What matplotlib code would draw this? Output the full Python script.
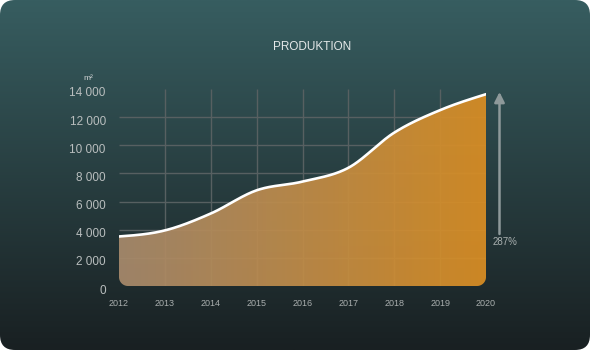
import numpy as np
import matplotlib.pyplot as plt
import matplotlib.transforms as mtransforms
from matplotlib.patches import FancyBboxPatch, Polygon

plt.rcParams['font.family'] = ['Liberation Sans', 'DejaVu Sans']

years = [2012, 2013, 2014, 2015, 2016, 2017, 2018, 2019, 2020]
area_m2 = [3520, 3950, 5150, 6800, 7420, 8400, 10900, 12500, 13630]
y_ticks = [0, 2000, 4000, 6000, 8000, 10000, 12000, 14000]
growth_label = "287%"
title = "PRODUKTION"
unit = "m²"

W, H = 590, 350


def monotone_curve(x, y, n=40):
    # monotone cubic (d3 curveMonotoneX style) sampled densely for drawing
    x = np.asarray(x, float)
    y = np.asarray(y, float)
    h = np.diff(x)
    s = np.diff(y) / h
    t = np.zeros_like(y)
    for i in range(1, len(x) - 1):
        p = (s[i - 1] * h[i] + s[i] * h[i - 1]) / (h[i - 1] + h[i])
        t[i] = (np.sign(s[i - 1]) + np.sign(s[i])) * min(abs(s[i - 1]), abs(s[i]), 0.5 * abs(p))
    t[0] = (3 * s[0] - t[1]) / 2
    t[-1] = (3 * s[-1] - t[-2]) / 2
    xs, ys = [], []
    for i in range(len(x) - 1):
        u = np.linspace(0, 1, n, endpoint=(i == len(x) - 2))
        h00 = 2 * u**3 - 3 * u**2 + 1
        h10 = u**3 - 2 * u**2 + u
        h01 = -2 * u**3 + 3 * u**2
        h11 = u**3 - u**2
        xs.append(x[i] + u * h[i])
        ys.append(h00 * y[i] + h10 * h[i] * t[i] + h01 * y[i + 1] + h11 * h[i] * t[i + 1])
    return np.concatenate(xs), np.concatenate(ys)


fig = plt.figure(figsize=(W / 100, H / 100), dpi=100)
fig.patch.set_facecolor("white")

# card background with vertical gradient
bg = fig.add_axes([0, 0, 1, 1])
bg.set_xlim(0, W)
bg.set_ylim(0, H)
bg.axis("off")
top = np.array([55, 93, 96]) / 255
bottom = np.array([25, 32, 34]) / 255
g = np.linspace(0, 1, 256)[:, None]
grad = bottom + (top - bottom) * g
grad = np.repeat(grad[:, None, :], 2, axis=1)
img = bg.imshow(grad, extent=[0, W, 0, H], origin="lower", aspect="auto", zorder=0)
card = FancyBboxPatch((0, 0), W, H, boxstyle="round,pad=0,rounding_size=15",
                      transform=bg.transData, facecolor="none", edgecolor="none")
bg.add_patch(card)
img.set_clip_path(card)

# plot area
x0, x1 = 119, 486
y0, y1 = 286, 89
ax = fig.add_axes([x0 / W, (H - y0) / H, (x1 - x0) / W, (y0 - y1) / H])
ax.set_facecolor("none")
ax.set_xlim(2012, 2020)
ax.set_ylim(0, 14000)
for sp in ax.spines.values():
    sp.set_visible(False)

grid_c = "#576061"
ax.hlines(y_ticks[1:-1], years[0], years[-1], color=grid_c, lw=1, zorder=1)
ax.vlines(years[1:-1], 0, y_ticks[-1], color=grid_c, lw=1, zorder=1)

xs, ys = monotone_curve(years, area_m2)

# filled area with rounded bottom corners
r = 9
rx = r * (years[-1] - years[0]) / (x1 - x0)
ry = r * y_ticks[-1] / (y0 - y1)
a1 = np.linspace(0, -np.pi / 2, 20)
a2 = np.linspace(-np.pi / 2, -np.pi, 20)
px = np.concatenate([xs, [years[-1]], years[-1] - rx + rx * np.cos(a1),
                     years[0] + rx + rx * np.cos(a2), [years[0]]])
py = np.concatenate([ys, [ry], ry + ry * np.sin(a1), ry + ry * np.sin(a2), [ys[0]]])
poly = Polygon(np.column_stack([px, py]), closed=True, facecolor="none",
               edgecolor="none", transform=ax.transData)
ax.add_patch(poly)

left_c = np.array([166, 137, 108]) / 255
right_c = np.array([217, 142, 36]) / 255
h_grad = np.linspace(0, 1, 256)[None, :, None]
fill_img = left_c + (right_c - left_c) * h_grad
fill_img = np.repeat(fill_img, 2, axis=0)
fi = ax.imshow(fill_img, extent=[years[0], years[-1], 0, y_ticks[-1]], origin="lower",
               aspect="auto", alpha=0.94, zorder=2)
fi.set_clip_path(poly)

ax.plot(xs, ys, color="white", lw=1.9, solid_capstyle="round", zorder=3)

ax.set_xticks(years)
ax.set_xticklabels([str(y) for y in years])
ax.set_yticks(y_ticks)
ax.set_yticklabels([f"{v:,}".replace(",", " ") for v in y_ticks])
ax.tick_params(axis="both", length=0)
ax.tick_params(axis="x", pad=9, labelsize=6.5, labelcolor="#a9aeae")
ax.tick_params(axis="y", pad=9.5, labelsize=8.5, labelcolor="#b9bebe")
shift = mtransforms.ScaledTranslation(0, -3 / 100, fig.dpi_scale_trans)
for lab in ax.get_yticklabels():
    lab.set_transform(lab.get_transform() + shift)

# growth arrow
bg.annotate("", xy=(499.5, H - 92), xytext=(499.5, H - 234),
            arrowprops=dict(arrowstyle="-|>,head_width=0.3,head_length=0.6",
                            color="#8e999a", lw=1.8, shrinkA=0, shrinkB=0))
bg.text(505, H - 242, growth_label, ha="center", va="center", fontsize=7, color="#a9b0b0")

bg.text(312, H - 47, title, ha="center", va="center", fontsize=8.5, color="#e4e8e8")
bg.text(88, H - 79, unit, ha="center", va="center", fontsize=6, color="#d0d4d4")

fig.savefig("out.png", dpi=100, facecolor=fig.get_facecolor())
